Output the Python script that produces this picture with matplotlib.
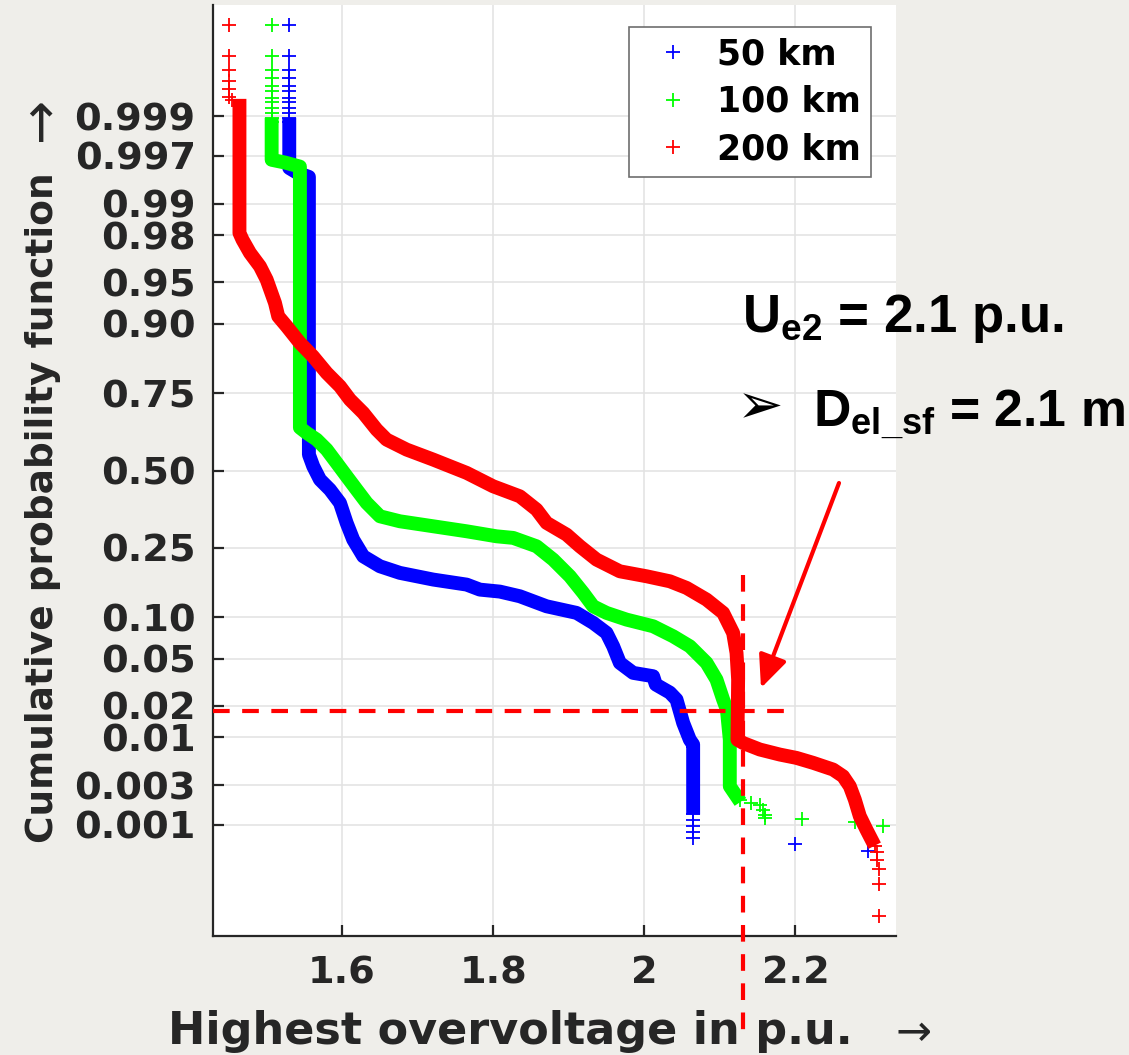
import math
from statistics import NormalDist
import numpy as np
import matplotlib
matplotlib.use("Agg")
import matplotlib.pyplot as plt
from matplotlib import transforms
from matplotlib.patches import FancyArrowPatch
from matplotlib.ticker import NullLocator

# ---------------- data ----------------
legend_labels = ['50 km', '100 km', '200 km']
series_colors = ['#0000ff', '#00ff00', '#ff0000']

prob_ticks = [0.001, 0.003, 0.01, 0.02, 0.05, 0.10, 0.25, 0.50, 0.75,
              0.90, 0.95, 0.98, 0.99, 0.997, 0.999]
prob_tick_labels = ['0.001', '0.003', '0.01', '0.02', '0.05', '0.10', '0.25',
                    '0.50', '0.75', '0.90', '0.95', '0.98', '0.99', '0.997', '0.999']
volt_ticks = [1.6, 1.8, 2.0, 2.2]
volt_tick_labels = ['1.6', '1.8', '2', '2.2']

# 50 km : densely packed part of the sample and isolated samples
km50_dense_v = [1.5303, 1.5303, 1.5405, 1.5563, 1.5563, 1.5620, 1.5709, 1.5841, 1.5974,
                1.6062, 1.6149, 1.6282, 1.6503, 1.6767, 1.7208, 1.7650, 1.7825, 1.8090,
                1.8354, 1.8708, 1.9105, 1.9324, 1.9501, 1.9589, 1.9677, 1.9853, 2.0118,
                2.0153, 2.0339, 2.0427, 2.0515, 2.0603, 2.0647, 2.0647]
km50_dense_p = [0.99873, 0.99585, 0.99533, 0.99480, 0.5552, 0.5146, 0.4684, 0.4338, 0.3887,
                0.3238, 0.2733, 0.2270, 0.2016, 0.1858, 0.1706, 0.1597, 0.1493, 0.1453,
                0.1362, 0.1180, 0.1070, 0.0918, 0.0782, 0.0625, 0.0466, 0.0387, 0.0363,
                0.0309, 0.0263, 0.0228, 0.0138, 0.0094, 0.0084, 0.00163]
km50_sparse_v = [1.5303] * 12 + [2.0647] * 5 + [2.1992, 2.2962]
km50_sparse_p = [0.99995, 0.99985, 0.99976, 0.99969, 0.99960, 0.99953, 0.99943, 0.99934,
                 0.99922, 0.99910, 0.99896, 0.99883,
                 0.00138, 0.00116, 0.00097, 0.00081, 0.00068,
                 0.00055, 0.00045]

# 100 km
km100_dense_v = [1.5070, 1.5070, 1.5246, 1.5444, 1.5444, 1.5533, 1.5665, 1.5798, 1.5930,
                 1.6062, 1.6194, 1.6327, 1.6503, 1.6767, 1.7208, 1.7650, 1.8046, 1.8266,
                 1.8575, 1.8795, 1.9016, 1.9192, 1.9324, 1.9501, 1.9766, 2.0118, 2.0382,
                 2.0603, 2.0824, 2.0956, 2.1044, 2.1093, 2.1132, 2.1132, 2.1221]
km100_dense_p = [0.99873, 0.99665, 0.99640, 0.9960, 0.6458, 0.6286, 0.6063, 0.5724, 0.5264,
                 0.4798, 0.4338, 0.3887, 0.3447, 0.3288, 0.3132, 0.2979, 0.2829, 0.2782,
                 0.2542, 0.2184, 0.1780, 0.1428, 0.1180, 0.1070, 0.0966, 0.0870, 0.0740,
                 0.0625, 0.0466, 0.0340, 0.0228, 0.0185, 0.0094, 0.00293, 0.00224]
km100_sparse_v = [1.5070] * 12 + [2.1265, 2.1419, 2.1529, 2.1565, 2.1595, 2.1595,
                                   2.2081, 2.2786, 2.3161]
km100_sparse_p = [0.99995, 0.99985, 0.99976, 0.99969, 0.99960, 0.99953, 0.99943, 0.99934,
                  0.99922, 0.99910, 0.99896, 0.99883,
                  0.00204, 0.00186, 0.00178, 0.00154, 0.00134, 0.00123,
                  0.00118, 0.00108, 0.00095]

# 200 km
km200_dense_v = [1.4644, 1.4644, 1.4684, 1.4783, 1.4915, 1.5004, 1.5114, 1.5157, 1.5269,
                 1.5444, 1.5616, 1.5798, 1.5974, 1.6106, 1.6282, 1.6459, 1.6591, 1.6856,
                 1.7208, 1.7650, 1.8001, 1.8354, 1.8575, 1.8708, 1.8972, 1.9148, 1.9369,
                 1.9677, 2.0030, 2.0339, 2.0560, 2.0824, 2.1044, 2.1176, 2.1221, 2.1242,
                 2.1238, 2.1233, 2.1309, 2.1529, 2.1794, 2.2014, 2.2234, 2.2499, 2.2631,
                 2.2720, 2.2786, 2.2852, 2.2940, 2.3007]
km200_dense_p = [0.99927, 0.9809, 0.9780, 0.9712, 0.9626, 0.9521, 0.9282, 0.9108, 0.8958,
                 0.8672, 0.8405, 0.8028, 0.7687, 0.7319, 0.6924, 0.6394, 0.6063, 0.5724,
                 0.5379, 0.4917, 0.4452, 0.4109, 0.3665, 0.3238, 0.2880, 0.2542, 0.2184,
                 0.1895, 0.1780, 0.1668, 0.1528, 0.1300, 0.1070, 0.0782, 0.0557, 0.0340,
                 0.0185, 0.0094, 0.0087, 0.00745, 0.00659, 0.00607, 0.00537, 0.00453, 0.00381,
                 0.00293, 0.00204, 0.00128, 0.00086, 0.00064]
km200_sparse_v = [1.4509] * 6 + [1.4541] + [2.3050, 2.3077, 2.3083, 2.3103, 2.3103, 2.3103]
km200_sparse_p = [0.99995, 0.99985, 0.99976, 0.99966, 0.99956, 0.99945, 0.99938,
                  0.00052, 0.00043, 0.00034, 0.00025, 0.000152, 0.0000502]

# reference lines of the annotation
limit_voltage = 2.13
limit_probability = 0.018
limit_line_end_voltage = 2.185

# ---------------- styling ----------------
plt.rcParams['font.family'] = ['DejaVu Sans']
plt.rcParams['mathtext.fontset'] = 'custom'
plt.rcParams['mathtext.bf'] = 'Liberation Sans:bold'
plt.rcParams['mathtext.rm'] = 'Liberation Sans:bold'
plt.rcParams['mathtext.it'] = 'Liberation Sans:bold'
plt.rcParams['mathtext.sf'] = 'Liberation Sans:bold'

_ND = NormalDist()


def _p_to_z(p):
    p = np.clip(np.asarray(p, dtype=float), 1e-12, 1 - 1e-12)
    return np.vectorize(_ND.inv_cdf, otypes=[float])(p)


def _z_to_p(z):
    z = np.asarray(z, dtype=float)
    return 0.5 * (1.0 + np.vectorize(math.erf, otypes=[float])(z / math.sqrt(2.0)))


W, H, DPI = 1129, 1055, 100
fig = plt.figure(figsize=(W / DPI, H / DPI), dpi=DPI, facecolor='#efeeea')
ax = fig.add_axes([213 / W, 1 - 936 / H, 683 / W, 931 / H])
ax.set_facecolor('white')
ax.set_yscale('function', functions=(_p_to_z, _z_to_p))

series = [
    (legend_labels[0], series_colors[0], km50_dense_v, km50_dense_p, km50_sparse_v, km50_sparse_p),
    (legend_labels[1], series_colors[1], km100_dense_v, km100_dense_p, km100_sparse_v, km100_sparse_p),
    (legend_labels[2], series_colors[2], km200_dense_v, km200_dense_p, km200_sparse_v, km200_sparse_p),
]
handles = []
for i, (lab, col, dv, dp, sv, sp) in enumerate(series):
    ax.plot(dv, dp, color=col, lw=10, solid_capstyle='projecting',
            solid_joinstyle='round', zorder=3 + i)
    h, = ax.plot(sv, sp, ls='none', marker='+', ms=10, mew=1.3, color=col,
                 zorder=3 + i, label=lab)
    handles.append(h)

ax.set_xlim(1.4294, 2.3331)
ax.set_ylim(2.43e-5, 1 - 2.43e-5)
ax.set_xticks(volt_ticks, volt_tick_labels)
ax.set_yticks(prob_ticks, prob_tick_labels)
ax.xaxis.set_minor_locator(NullLocator())
ax.yaxis.set_minor_locator(NullLocator())

for s in ['top', 'right']:
    ax.spines[s].set_visible(False)
for s in ['left', 'bottom']:
    ax.spines[s].set_color('#262626')
    ax.spines[s].set_linewidth(1.6)
ax.tick_params(axis='both', direction='in', length=8, width=1.6, color='#262626',
               labelcolor='#262626', labelsize=27.5)
ax.tick_params(axis='y', pad=12.5)
ax.tick_params(axis='x', pad=14)
for lbl in ax.get_xticklabels() + ax.get_yticklabels():
    lbl.set_fontweight('bold')
ax.grid(True, color='#e2e2e2', lw=1.1)
ax.set_axisbelow(True)

# axis labels
ax.set_xlabel('Highest overvoltage in p.u.', fontsize=32, fontweight='bold',
              color='#262626', ha='left', va='baseline')
ax.xaxis.set_label_coords((168 - 213) / 683, (936 - 1044) / 931)
fig.text(914 / W, 1 - 1033 / H, '\u2192', fontsize=31, color='#262626',
         ha='center', va='center')

ax.set_ylabel('Cumulative probability function', fontsize=27, fontweight='bold',
              color='#262626', va='baseline')
ax.yaxis.set_label_coords((53 - 213) / 683, (936 - 507.5) / 931)
fig.text(40 / W, 1 - 119 / H, '\u2192', fontsize=38, color='#262626',
         rotation=90, ha='center', va='center')

# legend
leg = ax.legend(handles=handles, loc='upper right', bbox_to_anchor=(0.9634, 0.9764),
                prop={'family': 'DejaVu Sans', 'weight': 'bold', 'size': 25},
                frameon=True, fancybox=False, framealpha=1, edgecolor='#6e6e6e',
                borderpad=0.3, handlelength=1.94, handletextpad=0.3,
                labelspacing=0.39, borderaxespad=0)
leg.get_frame().set_linewidth(1.2)
leg.set_zorder(10)

# dashed limit lines
blend = transforms.blended_transform_factory(ax.transData, fig.transFigure)
ax.plot([limit_voltage, limit_voltage], [1 - 575 / H, 1 - 1032 / H], transform=blend,
        color='red', lw=3, ls=(0, (4.0, 3.0)), clip_on=False, zorder=8)
ax.plot([ax.get_xlim()[0], limit_line_end_voltage], [limit_probability, limit_probability],
        color='red', lw=3, ls=(0, (4.0, 3.0)), clip_on=False, zorder=8)

# annotation
fig.text(742 / W, 1 - 332 / H, r'$\mathbf{U_{e2}}$ = 2.1 p.u.', fontsize=38,
         family='Liberation Sans', fontweight='bold', color='black',
         ha='left', va='baseline')
fig.text(813 / W, 1 - 427 / H, r'$\mathbf{D_{el\_sf}}$ = 2.1 m', fontsize=37.3,
         family='Liberation Sans', fontweight='bold', color='black',
         ha='left', va='baseline')
fig.text(760 / W, 1 - 408 / H, '\u27a2', fontsize=40, family='DejaVu Sans',
         color='black', ha='center', va='center')

arrow = FancyArrowPatch((839 / W, 1 - 483 / H), (761 / W, 1 - 688 / H),
                        transform=fig.transFigure,
                        arrowstyle='-|>,head_length=0.9,head_width=0.4',
                        mutation_scale=22, color='red', lw=3,
                        shrinkA=0, shrinkB=0)
fig.add_artist(arrow)

fig.savefig('out.png', dpi=DPI, facecolor=fig.get_facecolor())
